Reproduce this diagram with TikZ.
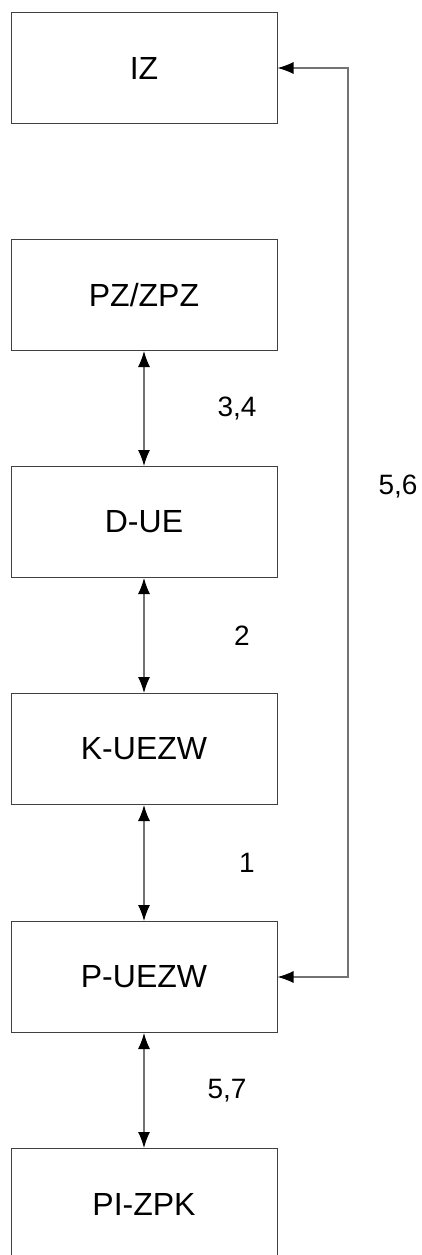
\documentclass[tikz,border=0pt]{standalone}
\usepackage{fontspec}
\setmainfont{Liberation Sans}
\usetikzlibrary{arrows.meta}

\begin{document}
\begin{tikzpicture}[x=1pt,y=-1pt,
  main node/.style={draw=black!75,line width=1pt,minimum width=266pt,minimum height=111pt,inner sep=0pt,font=\fontsize{32}{38}\selectfont},
  num label/.style={font=\fontsize{28}{33}\selectfont,inner sep=0pt},
  link/.style={draw=black!55,line width=1.2pt,{Latex[length=16pt,width=12pt,black]}-{Latex[length=16pt,width=12pt,black]}}]
  \useasboundingbox (0,0) rectangle (421,1255);

  \node[main node] (iz) at (144,68) {IZ};
  \node[main node] (pz) at (144,295) {PZ/ZPZ};
  \node[main node] (due) at (144,522) {D-UE};
  \node[main node] (kuezw) at (144,749) {K-UEZW};
  \node[main node] (puezw) at (144,977) {P-UEZW};
  \node[main node] (pizpk) at (144,1204) {PI-ZPK};
  \coordinate (bend) at (348,977);

 \path
 (pz) [link] edge node [num label,xshift=93pt] {3,4} (due)
 (due) [link] edge node [num label,xshift=98pt] {2} (kuezw)
 (kuezw) [link] edge node [num label,xshift=103pt] {1} (puezw)
 (puezw) [link] edge node [num label,xshift=83pt] {5,7} (pizpk);
 \draw[link] (puezw.east) -- (bend) |- (iz.east);
 \node[num label] (l56) at (398,487) {5,6};

\end{tikzpicture}
\end{document}
